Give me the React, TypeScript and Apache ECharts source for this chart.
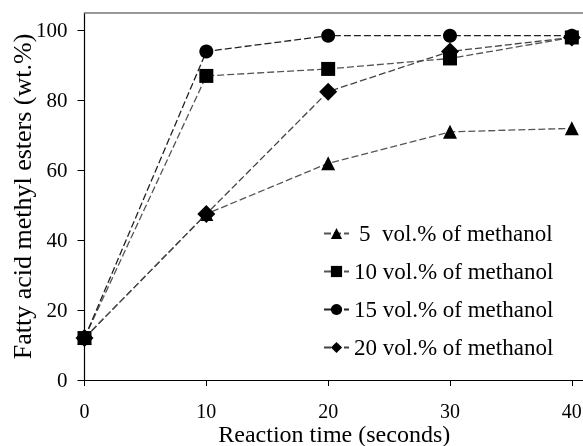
import React, { useEffect, useRef } from "react";
import * as echarts from "echarts";

const times = [0, 10, 20, 30, 40];
const seriesNames = [
  "5  vol.% of methanol",
  "10 vol.% of methanol",
  "15 vol.% of methanol",
  "20 vol.% of methanol",
];
const vol5 = [12, 47.5, 62, 71, 72];
const vol10 = [12, 87, 89, 92, 98];
const vol15 = [12, 94, 98.5, 98.5, 98.5];
const vol20 = [12, 47.5, 82.5, 94, 98];
const symbols = ["triangle", "rect", "circle", "diamond"];
const symbolSizes = [14, 14, 14, 18];
const lineColors = ["#555", "#555", "#222", "#444"];
const yTicks = [0, 20, 40, 60, 80, 100];
const xTicks = [0, 10, 20, 30, 40];

const FONT = "Liberation Serif";

export default function App() {
  const ref = useRef<HTMLDivElement>(null);
  useEffect(() => {
    if (!ref.current) return;
    const chart = echarts.init(ref.current, undefined, { renderer: "svg" });
    const all = [vol5, vol10, vol15, vol20];
    chart.setOption({
      animation: false,
      textStyle: { fontFamily: FONT, color: "#000" },
      grid: {
        left: 84.5,
        right: -1,
        top: 13,
        bottom: 66,
        containLabel: false,
        outerBoundsMode: "none",
      },
      legend: {
        orient: "vertical",
        left: 318,
        top: 217,
        itemGap: 15,
        itemWidth: 25,
        itemHeight: 14,
        textStyle: { fontFamily: FONT, fontSize: 23, color: "#000" },
        data: seriesNames.map((n, i) =>
          i === 0 ? { name: n, textStyle: { padding: [0, 0, 0, 5] } } : { name: n }
        ),
      },
      xAxis: [
        {
          type: "value",
          min: 0,
          max: 41,
          interval: 10,
          axisLine: { show: true, lineStyle: { color: "#000", width: 1.2 } },
          axisTick: { show: true, length: 6, lineStyle: { color: "#000" } },
          axisLabel: {
            margin: 21,
            fontSize: 20,
            fontFamily: FONT,
            color: "#000",
            showMaxLabel: false,
            formatter: (v: number) => (xTicks.includes(v) ? String(v) : ""),
          },
          splitLine: { show: false },
          name: "Reaction time (seconds)",
          nameLocation: "middle",
          nameGap: 42,
          nameMoveOverlap: false,
          nameTextStyle: { fontSize: 24, fontFamily: FONT, color: "#000" },
        },
        {
          type: "value",
          position: "top",
          min: 0,
          max: 41,
          axisLine: { show: true, lineStyle: { color: "#777", width: 1.5 } },
          axisTick: { show: false },
          axisLabel: { show: false },
          splitLine: { show: false },
        },
      ],
      yAxis: {
        type: "value",
        min: 0,
        max: 105,
        interval: 20,
        axisLine: { show: true, lineStyle: { color: "#000", width: 1.2 } },
        axisTick: { show: true, length: 7, lineStyle: { color: "#000" } },
        axisLabel: {
          margin: 17,
          fontSize: 21,
          fontFamily: FONT,
          color: "#000",
          showMaxLabel: false,
          formatter: (v: number) => (yTicks.includes(v) ? String(v) : ""),
        },
        splitLine: { show: false },
        name: "Fatty acid methyl esters (wt.%)",
        nameLocation: "middle",
        nameGap: 49,
        nameMoveOverlap: false,
        nameTextStyle: { fontSize: 26, fontFamily: FONT, color: "#000" },
      },
      series: all.map((vals, i) => ({
        name: seriesNames[i],
        type: "line",
        data: times.map((t, j) => [t, vals[j]]),
        symbol: symbols[i],
        symbolSize: symbolSizes[i],
        itemStyle: { color: "#000" },
        lineStyle: { color: lineColors[i], width: 1.3, type: [7, 3] },
        z: 2 + i,
      })),
    });
    return () => chart.dispose();
  }, []);
  return (
    <div
      ref={ref}
      style={{ position: "fixed", left: 0, top: 0, width: 583, height: 446 }}
    />
  );
}
